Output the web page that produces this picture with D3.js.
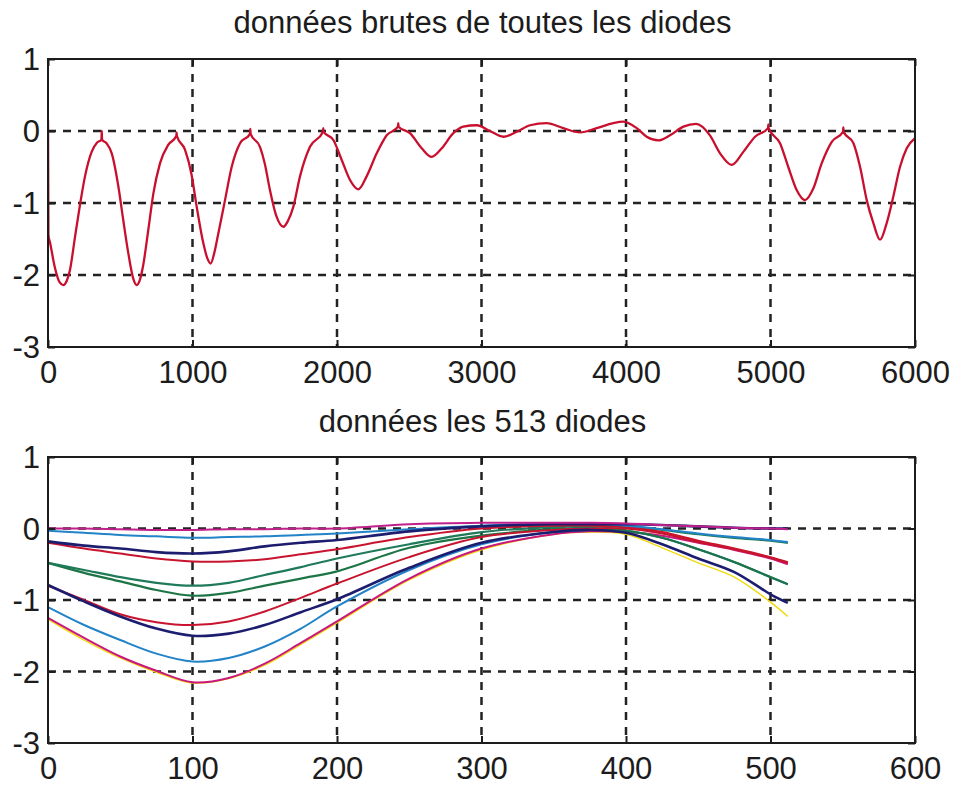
<!DOCTYPE html>
<html>
<head>
<meta charset="utf-8">
<script src="https://cdn.jsdelivr.net/npm/d3@7"></script>
<style>
  html, body { margin: 0; padding: 0; background: #fff; }
  svg { display: block; }
  text { font-family: "Liberation Sans", Arial, sans-serif; fill: #1c1c1c; }
</style>
</head>
<body>
<svg id="chart" width="953" height="785"></svg>
<script>
// ---------- data ----------
const topTitle = "données brutes de toutes les diodes";
const bottomTitle = "données les 513 diodes";

const topXTicks = [0, 1000, 2000, 3000, 4000, 5000, 6000];
const bottomXTicks = [0, 100, 200, 300, 400, 500, 600];
const yTicks = [1, 0, -1, -2, -3];

// raw signal of all diodes
const topX = [0, 3, 14, 48, 80, 106, 130, 152, 187, 221, 256, 302, 340, 370, 372, 374, 405, 441, 487, 521, 556, 590, 614, 640, 660, 694, 729, 775, 833, 888, 890, 892, 948, 994, 1029, 1075, 1105, 1126, 1150, 1179, 1225, 1271, 1329, 1398, 1400, 1402, 1467, 1500, 1536, 1580, 1629, 1660, 1698, 1744, 1813, 1903, 1905, 1907, 1975, 2032, 2090, 2148, 2205, 2275, 2344, 2422, 2424, 2426, 2505, 2586, 2655, 2725, 2805, 2874, 2967, 3059, 3151, 3244, 3336, 3451, 3566, 3682, 3797, 3912, 3981, 4074, 4143, 4224, 4304, 4397, 4485, 4581, 4651, 4731, 4812, 4893, 4983, 4985, 4987, 5066, 5123, 5181, 5239, 5296, 5354, 5424, 5502, 5504, 5506, 5574, 5620, 5666, 5712, 5758, 5804, 5850, 5896, 5943, 6000];
const topY = [0.15, -1.45, -1.55, -1.9, -2.1, -2.14, -2.08, -1.93, -1.47, -1.03, -0.63, -0.29, -0.16, -0.12, 0.0, -0.12, -0.17, -0.31, -0.77, -1.24, -1.70, -2.05, -2.14, -2.04, -1.85, -1.375, -0.87, -0.45, -0.19, -0.07, -0.02, -0.07, -0.26, -0.61, -1.05, -1.56, -1.78, -1.84, -1.7, -1.42, -0.96, -0.50, -0.17, -0.04, 0.03, -0.04, -0.22, -0.45, -0.82, -1.18, -1.33, -1.25, -1.05, -0.63, -0.22, -0.01, 0.04, -0.01, -0.125, -0.40, -0.68, -0.81, -0.63, -0.31, -0.06, 0.06, 0.11, 0.06, -0.03, -0.24, -0.36, -0.24, -0.03, 0.06, 0.08, 0.0, -0.08, -0.01, 0.08, 0.11, 0.04, -0.02, 0.04, 0.11, 0.13, 0.04, -0.08, -0.13, -0.06, 0.06, 0.10, -0.06, -0.31, -0.47, -0.29, -0.08, 0.04, 0.09, 0.04, -0.17, -0.50, -0.82, -0.96, -0.80, -0.45, -0.15, -0.01, 0.05, -0.01, -0.17, -0.50, -0.96, -1.28, -1.51, -1.28, -0.91, -0.50, -0.24, -0.10];

// the 513 diodes, overlaid curves (x positions shared by all series)
const diodeX = [0, 25, 50, 75, 100, 125, 150, 175, 200, 250, 300, 350, 375, 400, 425, 450, 475, 500, 512];
const yellowLow   = [-1.27, -1.56, -1.81, -2.01, -2.16, -2.10, -1.91, -1.62, -1.32, -0.72, -0.30, -0.08, -0.05, -0.08, -0.27, -0.48, -0.68, -1.03, -1.23];
const magentaLow  = [-1.25, -1.53, -1.79, -1.99, -2.15, -2.09, -1.89, -1.60, -1.30, -0.70, -0.28, -0.08, -0.04, -0.05, -0.10, -0.20, -0.30, -0.42, -0.50];
const blueLow     = [-1.10, -1.35, -1.56, -1.75, -1.86, -1.81, -1.65, -1.40, -1.09, -0.58, -0.22, -0.05, -0.02, -0.03, -0.13, -0.29, -0.47, -0.68, -0.78];
const navyLow     = [-0.79, -1.02, -1.23, -1.40, -1.50, -1.47, -1.35, -1.17, -0.99, -0.55, -0.20, -0.05, -0.02, -0.06, -0.22, -0.42, -0.61, -0.92, -1.04];
const redLow      = [-0.80, -1.00, -1.20, -1.31, -1.35, -1.30, -1.16, -0.97, -0.77, -0.40, -0.12, -0.02, 0.00, 0.00, -0.07, -0.19, -0.29, -0.41, -0.48];
const greenLow    = [-0.48, -0.62, -0.74, -0.86, -0.94, -0.90, -0.80, -0.70, -0.60, -0.27, -0.10, -0.01, 0.01, -0.03, -0.13, -0.29, -0.47, -0.68, -0.78];
const greenHigh   = [-0.48, -0.58, -0.68, -0.76, -0.80, -0.76, -0.65, -0.54, -0.42, -0.22, -0.05, 0.02, 0.03, 0.03, -0.02, -0.08, -0.13, -0.17, -0.20];
const redHigh     = [-0.20, -0.28, -0.35, -0.42, -0.46, -0.46, -0.43, -0.36, -0.29, -0.12, 0.00, 0.04, 0.04, 0.02, -0.05, -0.17, -0.28, -0.40, -0.47];
const navyHigh    = [-0.18, -0.24, -0.28, -0.33, -0.35, -0.32, -0.25, -0.20, -0.16, -0.04, 0.03, 0.06, 0.06, 0.06, 0.05, 0.03, 0.01, 0.00, 0.00];
const blueHigh    = [-0.03, -0.06, -0.09, -0.11, -0.13, -0.12, -0.11, -0.09, -0.07, -0.01, 0.04, 0.07, 0.07, 0.04, -0.01, -0.07, -0.12, -0.16, -0.19];
const magentaHigh = [0.00, 0.00, -0.01, -0.02, -0.02, -0.01, -0.01, 0.00, 0.00, 0.06, 0.08, 0.08, 0.08, 0.07, 0.05, 0.03, 0.01, 0.00, -0.01];

const diodeSeries = [
  { values: yellowLow,   color: "#f2d90a", width: 1.4 },
  { values: magentaLow,  color: "#c8187c", width: 2 },
  { values: blueLow,     color: "#2283c8", width: 2 },
  { values: greenLow,    color: "#1d7445", width: 2.2 },
  { values: redLow,      color: "#c8142e", width: 2 },
  { values: navyLow,     color: "#1d1d70", width: 2.6 },
  { values: greenHigh,   color: "#1f7a5a", width: 2.2 },
  { values: redHigh,     color: "#c8142e", width: 2 },
  { values: blueHigh,    color: "#2283c8", width: 2 },
  { values: navyHigh,    color: "#1d1d70", width: 2.6 },
  { values: magentaHigh, color: "#c0208a", width: 2 }
];

// ---------- layout ----------
const svg = d3.select("#chart");
const left = 48, right = 915;
const panels = [
  { top: 59, bottom: 347, xDomain: [0, 6000], xTicks: topXTicks, title: topTitle, titleY: 33 },
  { top: 457, bottom: 743, xDomain: [0, 600], xTicks: bottomXTicks, title: bottomTitle, titleY: 432 }
];

function drawPanel(p, idx) {
  const x = d3.scaleLinear().domain(p.xDomain).range([left, right]);
  const y = d3.scaleLinear().domain([-3, 1]).range([p.bottom, p.top]);
  const g = svg.append("g");

  g.append("text")
    .attr("x", (left + right) / 2 + 1)
    .attr("y", p.titleY)
    .attr("text-anchor", "middle")
    .style("font-size", "31px")
    .text(p.title);

  // grid
  const grid = g.append("g").attr("stroke", "#222").attr("stroke-width", 2.5)
    .attr("stroke-dasharray", "8,7");
  grid.selectAll("line.v").data(p.xTicks.slice(1, -1)).join("line")
    .attr("x1", d => x(d)).attr("x2", d => x(d))
    .attr("y1", p.top).attr("y2", p.bottom);
  grid.selectAll("line.h").data(yTicks.slice(1, -1)).join("line")
    .attr("x1", left).attr("x2", right)
    .attr("y1", d => y(d)).attr("y2", d => y(d));

  const clipId = "clip" + idx;
  svg.append("clipPath").attr("id", clipId).append("rect")
    .attr("x", left - 1).attr("y", p.top).attr("width", right - left + 1).attr("height", p.bottom - p.top);

  const plot = g.append("g").attr("clip-path", `url(#${clipId})`);

  if (idx === 0) {
    const line = d3.line().x(d => x(d[0])).y(d => y(d[1])).curve(d3.curveMonotoneX);
    const pts = topX.map((v, i) => [v, topY[i]]);
    plot.append("path").datum(pts)
      .attr("d", line).attr("fill", "none")
      .attr("stroke", "#c8102e").attr("stroke-width", 2.3)
      .attr("stroke-linejoin", "round");
  } else {
    const line = d3.line().x(d => x(d[0])).y(d => y(d[1])).curve(d3.curveCatmullRom.alpha(0.5));
    diodeSeries.forEach(s => {
      const pts = diodeX.map((v, i) => [v, s.values[i]]);
      plot.append("path").datum(pts)
        .attr("d", line).attr("fill", "none")
        .attr("stroke", s.color).attr("stroke-width", s.width)
        .attr("stroke-linejoin", "round");
    });
  }

  // axes (inward ticks like MATLAB)
  const fmt = d => String(d);
  const ax = g.append("g").attr("transform", `translate(0,${p.bottom})`)
    .call(d3.axisBottom(x).tickValues(p.xTicks).tickSize(-7).tickPadding(14).tickFormat(fmt));
  const ay = g.append("g").attr("transform", `translate(${left},0)`)
    .call(d3.axisLeft(y).tickValues(yTicks).tickSize(-7).tickPadding(8).tickFormat(fmt));
  const at = g.append("g").attr("transform", `translate(0,${p.top})`)
    .call(d3.axisTop(x).tickValues(p.xTicks).tickSize(-7).tickFormat(""));
  const ar = g.append("g").attr("transform", `translate(${right},0)`)
    .call(d3.axisRight(y).tickValues(yTicks).tickSize(-7).tickFormat(""));
  [ax, ay, at, ar].forEach(a => {
    a.select(".domain").remove();
    a.selectAll(".tick line").attr("stroke", "#1c1c1c").attr("stroke-width", 2);
    a.selectAll("text").style("font-size", "31px").style("font-family", "'Liberation Sans', Arial, sans-serif").attr("fill", "#1c1c1c");
  });
  ay.selectAll("text").attr("dy", "0.35em");

  // frame
  g.append("rect")
    .attr("x", left).attr("y", p.top)
    .attr("width", right - left).attr("height", p.bottom - p.top)
    .attr("fill", "none").attr("stroke", "#1c1c1c").attr("stroke-width", 2);
}

panels.forEach(drawPanel);
</script>
</body>
</html>
